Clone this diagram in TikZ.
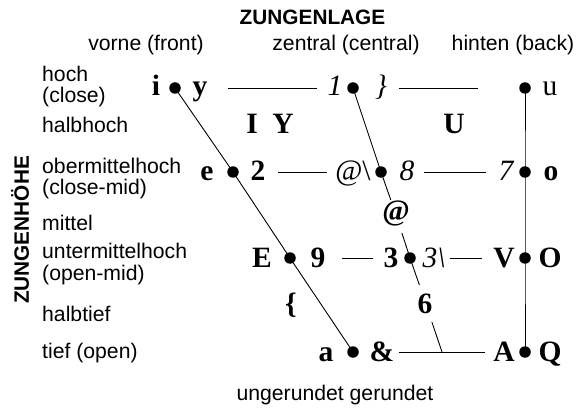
\documentclass[tikz,border=0pt]{standalone}
\usepackage{fontspec}
\setmainfont{Liberation Serif}
\setsansfont{Liberation Sans}
\begin{document}
\begin{tikzpicture}[x=1pt,y=-1pt,
  lab/.style={font=\sffamily\fontsize{21.2}{23}\selectfont, inner sep=0, anchor=base west},
  head/.style={font=\sffamily\fontsize{21.2}{23}\selectfont, inner sep=0, anchor=base},
  sym/.style={font=\fontsize{29.5}{30}\selectfont\bfseries, inner sep=0, anchor=base},
  symi/.style={font=\fontsize{29.5}{30}\selectfont\itshape, inner sep=0, anchor=base},
  symr/.style={font=\fontsize{29.5}{30}\selectfont, inner sep=0, anchor=base},
  dot/.style={circle, fill=black, inner sep=0, minimum size=11.5pt},
  ln/.style={line width=0.9pt}]
\useasboundingbox (0,0) rectangle (576,409);
% headings
\node[head, font=\sffamily\bfseries\fontsize{20.8}{23}\selectfont] (zl) at (312.5,25) {ZUNGENLAGE};
\node[head] (hf) at (146,51) {vorne (front)};
\node[head] (hc) at (346,51) {zentral (central)};
\node[head] (hb) at (513,51) {hinten (back)};
\node[font=\sffamily\bfseries\fontsize{20.8}{23}\selectfont, inner sep=0, rotate=90] (zh) at (20,230) {ZUNGENHÖHE};
\node[head] (ug) at (335,400) {ungerundet gerundet};
% row labels
\node[lab] (l1) at (42,82) {hoch};
\node[lab] (l1b) at (42,103) {(close)};
\node[lab] (l2) at (42,133) {halbhoch};
\node[lab] (l3) at (42,174) {obermittelhoch};
\node[lab] (l3b) at (42,195) {(close-mid)};
\node[lab] (l4) at (42,230) {mittel};
\node[lab] (l5) at (42,258.5) {untermittelhoch};
\node[lab] (l5b) at (42,280) {(open-mid)};
\node[lab] (l6) at (42,321) {halbtief};
\node[lab] (l7) at (42,358) {tief (open)};
% dots
\node[dot] (f1) at (175,88) {};
\node[dot] (f3) at (233,172) {};
\node[dot] (f5) at (290,258) {};
\node[dot] (f7) at (353,352) {};
\node[dot] (c1) at (353,88) {};
\node[dot] (c3) at (381,172) {};
\node[dot] (c5) at (410,258) {};
\node[dot] (b1) at (525,88) {};
\node[dot] (b3) at (525,172) {};
\node[dot] (b5) at (525,258) {};
\node[dot] (b7) at (525,352) {};
% symbols row 1
\node[sym] (si) at (156,96) {i};
\node[sym] (sy) at (200,96) {y};
\node[symi] (s1) at (335,96) {1};
\node[symi] (sbr) at (381,96) {\}};
\node[symr] (su) at (550,96) {u};
% row 2
\node[sym] (sI) at (252,134) {I};
\node[sym] (sY) at (283,134) {Y};
\node[sym] (sU) at (454,134) {U};
% row 3
\node[sym] (se) at (207,181) {e};
\node[sym] (s2) at (258,181) {2};
\node[symr] (sat) at (353,181) {@\textbackslash};
\node[symi] (s8) at (407,181) {8};
\node[symi] (s7) at (506,181) {7};
\node[sym] (so) at (551,181) {o};
% row 4
\node[sym] (sat2) at (396,221) {@};
% row 5
\node[sym] (sE) at (262,267) {E};
\node[sym] (s9) at (318,267) {9};
\node[sym] (s3) at (391,267) {3};
\node[symi] (s3r) at (434,267) {3\textbackslash};
\node[sym] (sV) at (504,267) {V};
\node[sym] (sO) at (550,267) {O};
% row 6
\node[sym] (sbl) at (291,313) {\{};
\node[sym] (s6) at (425,313) {6};
% row 7
\node[sym] (sa) at (326,361) {a};
\node[sym] (samp) at (382,361) {\&};
\node[sym] (sA) at (504,361) {A};
\node[sym] (sQ) at (550,361) {Q};
% coordinates for line ends
\coordinate (h1a) at (228,88);  \coordinate (h1b) at (317,88);
\coordinate (h1c) at (399,88);  \coordinate (h1d) at (478,88);
\coordinate (h3a) at (278,172); \coordinate (h3b) at (327,172);
\coordinate (h3c) at (424,172); \coordinate (h3d) at (486,172);
\coordinate (h5a) at (342,258); \coordinate (h5b) at (373,258);
\coordinate (h5c) at (450,258); \coordinate (h5d) at (482,258);
\coordinate (h7a) at (399,352); \coordinate (h7b) at (485,352);
\coordinate (k1) at (390.8,200); \coordinate (k2) at (401.9,233);
\coordinate (k3) at (419.4,285); \coordinate (k4) at (431.9,322);
\coordinate (j) at (442,352);
% lines
\draw[ln] (f1.center) -- (f3.center) -- (f5.center) -- (f7.center);
\draw[ln] (b1.center) -- (b3.center) -- (b5.center) -- (b7.center);
\draw[ln] (c1.center) -- (c3.center) -- (k1);
\draw[ln] (k2) -- (c5.center) -- (k3);
\draw[ln] (k4) -- (j);
\draw[ln] (h1a) -- (h1b);
\draw[ln] (h1c) -- (h1d);
\draw[ln] (h3a) -- (h3b);
\draw[ln] (h3c) -- (h3d);
\draw[ln] (h5a) -- (h5b);
\draw[ln] (h5c) -- (h5d);
\draw[ln] (h7a) -- (h7b);
\end{tikzpicture}
\end{document}
